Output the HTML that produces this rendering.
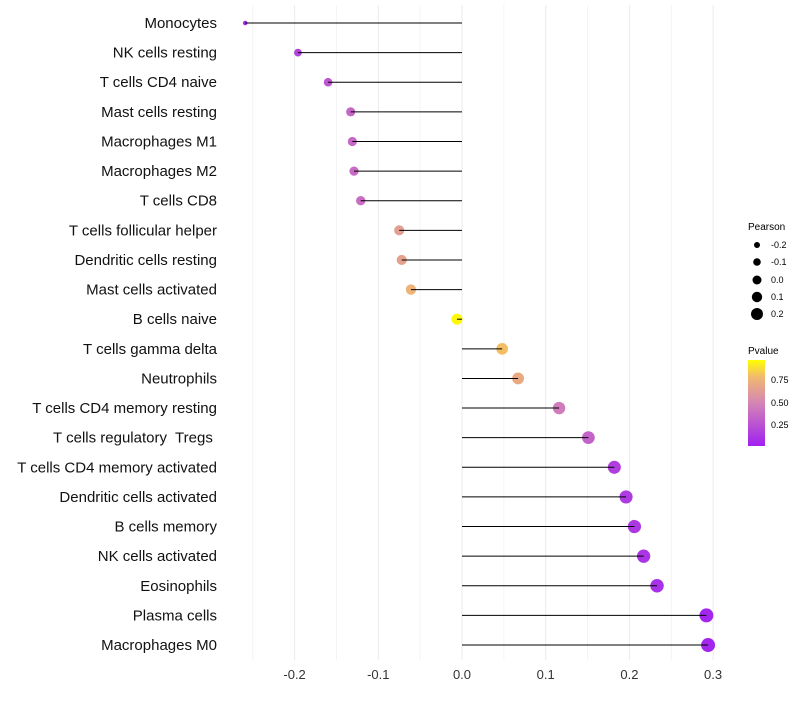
<!DOCTYPE html>
<html><head><meta charset="utf-8"><style>
body{margin:0;background:#fff;font-family:"Liberation Sans",sans-serif}
</style></head><body>
<svg id="chart" width="800" height="700" xmlns="http://www.w3.org/2000/svg">
<defs><linearGradient id="pg" x1="0" y1="1" x2="0" y2="0">
<stop offset="0" stop-color="#A020F0"/><stop offset="0.5" stop-color="#D585B5"/><stop offset="0.8" stop-color="#F0B870"/><stop offset="1" stop-color="#FFFF00"/></linearGradient></defs>
<g id="grid"></g><g id="marks"></g><g id="labels"></g>
<g font-size="9" fill="#000">
<text x="748" y="230" font-size="10">Pearson</text>
<circle cx="757" cy="245" r="3"/><text x="771" y="248">-0.2</text>
<circle cx="757" cy="262" r="3.8"/><text x="771" y="265">-0.1</text>
<circle cx="757" cy="280" r="4.5"/><text x="771" y="283">0.0</text>
<circle cx="757" cy="297" r="5.2"/><text x="771" y="300">0.1</text>
<circle cx="757" cy="314" r="6"/><text x="771" y="317">0.2</text>
</g>
<g font-size="9">
<text x="748" y="354" font-size="10">Pvalue</text>
<rect x="748" y="360" width="17" height="86" fill="url(#pg)"/>
<text x="771" y="383">0.75</text><text x="771" y="406">0.50</text><text x="771" y="428">0.25</text>
</g>
</svg>
<script>
const categories=["Monocytes","NK cells resting","T cells CD4 naive","Mast cells resting","Macrophages M1","Macrophages M2","T cells CD8","T cells follicular helper","Dendritic cells resting","Mast cells activated","B cells naive","T cells gamma delta","Neutrophils","T cells CD4 memory resting","T cells regulatory  Tregs ","T cells CD4 memory activated","Dendritic cells activated","B cells memory","NK cells activated","Eosinophils","Plasma cells","Macrophages M0"];
const pearson=[-0.259,-0.196,-0.160,-0.133,-0.131,-0.129,-0.121,-0.075,-0.072,-0.061,-0.006,0.048,0.067,0.116,0.151,0.182,0.196,0.206,0.217,0.233,0.292,0.294];
const pvalue=[0.05,0.18,0.26,0.35,0.36,0.37,0.38,0.65,0.67,0.77,0.98,0.82,0.72,0.45,0.33,0.15,0.13,0.12,0.1,0.08,0.03,0.03];
const ticks=[-0.2,-0.1,0.0,0.1,0.2,0.3];
const NS="http://www.w3.org/2000/svg";
const x=v=>462+v*837;
const y=i=>23+i*29.62;
function col(p){const s=[[0,[160,32,240]],[0.5,[213,133,181]],[0.8,[240,184,112]],[1,[255,255,0]]];
for(let k=1;k<s.length;k++){if(p<=s[k][0]){const t=(p-s[k-1][0])/(s[k][0]-s[k-1][0]);const a=s[k-1][1],b=s[k][1];return`rgb(${a.map((c,j)=>Math.round(c+(b[j]-c)*t)).join(",")})`;}}return"rgb(255,255,0)";}
function mk(t,a,p){const e=document.createElementNS(NS,t);for(const k in a)e.setAttribute(k,a[k]);p.appendChild(e);return e;}
const G=document.getElementById("grid"),M=document.getElementById("marks"),L=document.getElementById("labels");
for(let v=-0.25;v<=0.3001;v+=0.05){const e=mk("line",{x1:x(v),x2:x(v),y1:5,y2:660,stroke:Math.abs(Math.round(v*100)%10)==5?"#f4f4f4":"#ebebeb","stroke-width":1},G);

}
ticks.forEach(t=>{const e=mk("text",{x:x(t),y:679,"text-anchor":"middle","font-size":13,fill:"#333"},L);e.textContent=t.toFixed(1);

});
categories.forEach((c,i)=>{const e=mk("text",{x:217,y:y(i)+5,"text-anchor":"end","font-size":15,fill:"#111"},L);e.setAttribute("xml:space","preserve");e.style.whiteSpace="pre";e.textContent=c;


const t=Math.max(0,(pearson[i]+0.26)/0.555);
const r=2+5*Math.pow(t,0.45);
const d=mk("circle",{cx:x(pearson[i]),cy:y(i),r:r,fill:col(pvalue[i])},M);


const ln=mk("line",{x1:x(0),x2:x(pearson[i]),y1:y(i),y2:y(i),stroke:"#000","stroke-width":1},M);

});
</script>
</body></html>
